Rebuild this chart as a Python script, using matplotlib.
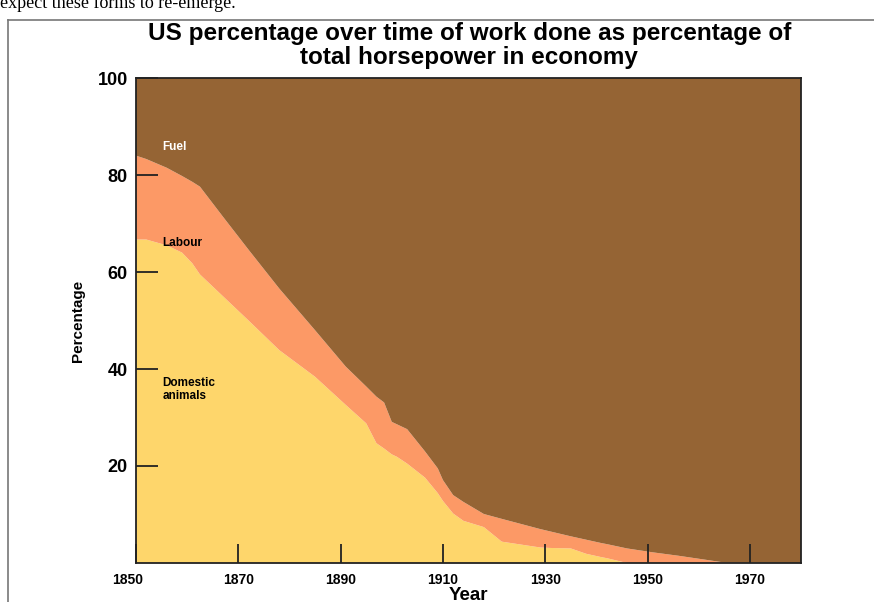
import matplotlib.pyplot as plt
import matplotlib.transforms as mtransforms
from matplotlib.lines import Line2D

# horsepower share by source, US 1850-1980
years = [1850, 1852, 1856, 1859, 1861, 1862.5, 1867, 1872, 1878, 1885,
         1891, 1895, 1897, 1898.5, 1900, 1901, 1903, 1906.5, 1909, 1910,
         1912, 1914, 1918, 1921.5, 1924, 1929, 1931, 1935, 1938, 1941,
         1942, 1946, 1951, 1956, 1965, 1980]
domestic_animals = [66.7, 66.7, 65.5, 64.0, 61.8, 59.5, 55.0, 50.0, 43.9, 38.4,
                    32.6, 28.8, 24.7, 23.6, 22.4, 21.9, 20.5, 17.6, 14.4, 12.8,
                    10.2, 8.7, 7.4, 4.4, 4.0, 3.2, 3.1, 3.0, 1.9, 1.2,
                    1.0, 0.0, 0.0, 0.0, 0.0, 0.0]
labour = [17.3, 16.6, 16.0, 15.8, 16.8, 18.1, 16.4, 14.6, 12.7, 9.6,
          7.9, 7.6, 9.6, 9.5, 6.7, 6.7, 7.1, 5.4, 5.1, 4.3,
          3.8, 3.9, 2.7, 4.7, 4.4, 3.8, 3.4, 2.5, 2.9, 2.9,
          2.9, 3.0, 2.2, 1.5, 0.1, 0.0]
fuel = [16.0, 16.7, 18.5, 20.2, 21.4, 22.4, 28.6, 35.4, 43.4, 52.0,
        59.5, 63.6, 65.7, 66.9, 70.9, 71.4, 72.4, 77.0, 80.5, 82.9,
        86.0, 87.4, 89.9, 90.9, 91.6, 93.0, 93.5, 94.5, 95.2, 95.9,
        96.1, 97.0, 97.8, 98.5, 99.9, 100.0]

x_ticks = [1850, 1870, 1890, 1910, 1930, 1950, 1970]
y_ticks = [20, 40, 60, 80, 100]
colors = ['#FED66B', '#FC9966', '#956434']

plt.rcParams['font.family'] = ['Liberation Sans', 'DejaVu Sans']

fig = plt.figure(figsize=(8.74, 6.02), dpi=100)
ax = fig.add_axes([0.1556, 0.0648, 0.7609, 0.8056])

ax.stackplot(years, domestic_animals, labour, fuel, colors=colors, linewidth=0)

ax.set_xlim(1850, 1980)
ax.set_ylim(0, 100)
ax.set_xticks(x_ticks)
ax.set_yticks(y_ticks)
ax.set_xticklabels([str(t) for t in x_ticks], fontsize=10, fontweight='bold')
ax.set_yticklabels([str(t) for t in y_ticks], fontsize=13, fontweight='bold')
ax.tick_params(axis='x', direction='in', length=14, width=1.3, color='#222222', pad=7)
ax.tick_params(axis='y', direction='in', length=16, width=1.3, color='#222222', pad=6)
for side in ['left', 'bottom', 'top', 'right']:
    ax.spines[side].set_linewidth(1.3)
    ax.spines[side].set_color('#222222')

# first year label sits a little left of its tick
first = ax.get_xticklabels()[0]
first.set_transform(first.get_transform() +
                    mtransforms.ScaledTranslation(-8 / 100, 0, fig.dpi_scale_trans))

ax.set_xlabel('Year', fontsize=13.5, fontweight='bold', labelpad=0)
ax.set_ylabel('Percentage', fontsize=11, fontweight='bold', labelpad=9)

ax.text(1855.2, 85.8, 'Fuel', color='white', fontsize=8.5, fontweight='bold', va='center')
ax.text(1855.2, 66.0, 'Labour', color='black', fontsize=8.5, fontweight='bold', va='center')
ax.text(1855.2, 35.8, 'Domestic\nanimals', color='black', fontsize=8.5, fontweight='bold',
        va='center', linespacing=1.1)

fig.text(0.537, 0.924, 'US percentage over time of work done as percentage of\n'
         'total horsepower in economy', ha='center', va='center',
         fontsize=17.5, fontweight='bold', linespacing=1.07)

# page text and frame around the chart
fig.text(0.0, 0.986, 'expect these forms to re-emerge.', fontsize=13,
         family='Liberation Serif', va='baseline')
fig.add_artist(Line2D([0.009, 0.009], [0.0, 0.967], color='#777777', lw=1.2,
                      transform=fig.transFigure))
fig.add_artist(Line2D([0.009, 1.0], [0.967, 0.967], color='#777777', lw=1.2,
                      transform=fig.transFigure))

fig.savefig('out.png', dpi=100)
